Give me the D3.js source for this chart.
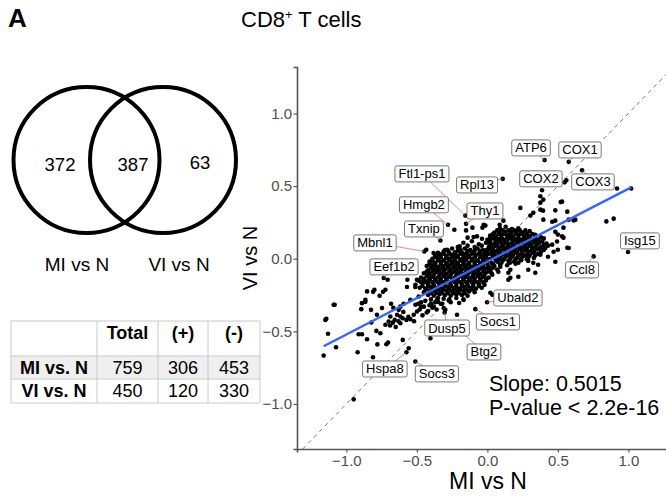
<!DOCTYPE html>
<html>
<head>
<meta charset="utf-8">
<script src="https://cdn.jsdelivr.net/npm/d3@7"></script>
<style>body{margin:0;background:#fff}</style>
</head>
<body>
<div id="canvas"></div>
<script>
// Constants
const w = 666;
const h = 497;
const font = "'Liberation Sans', Arial, Helvetica, sans-serif";

// Venn data
const vennSets = ["MI vs N", "VI vs N"];
const vennCounts = [372, 387, 63];

// Table data
const tableHeader = ["", "Total", "(+)", "(-)"];
const tableRows = ["MI vs. N", "VI vs. N"];
const tableTotal = [759, 450];
const tableUp = [306, 120];
const tableDown = [453, 330];

// Scatter axes
const xTicks = [-1.0, -0.5, 0.0, 0.5, 1.0];
const yTicks = [-1.0, -0.5, 0.0, 0.5, 1.0];
const fitSlope = 0.5015;
const fitIntercept = -0.02;
const statLines = ["Slope: 0.5015", "P-value < 2.2e-16"];

// dense cluster around (-0.2, -0.1)
const pointsLow = [
  [-0.17,0.11],[-0.11,0.12],[-0.06,0.10],[-0.01,0.11],
  [-0.21,0.08],[-0.14,0.09],[-0.09,0.08],[-0.04,0.09],[0.01,0.08],
  [-0.30,0.06],[-0.25,0.07],[-0.19,0.06],[-0.16,0.07],[-0.12,0.06],[-0.07,0.07],[-0.03,0.06],[0.02,0.07],
  [-0.35,0.04],[-0.31,0.05],[-0.27,0.04],[-0.23,0.045],[-0.18,0.04],[-0.14,0.05],[-0.10,0.04],[-0.05,0.045],[-0.01,0.04],[0.04,0.05],
  [-0.37,0.02],[-0.33,0.03],[-0.29,0.02],[-0.25,0.025],[-0.21,0.02],[-0.17,0.03],[-0.13,0.02],[-0.08,0.025],[-0.04,0.02],[0.00,0.03],[0.05,0.02],
  [-0.39,0.00],[-0.35,0.01],[-0.31,-0.01],[-0.27,0.00],[-0.23,0.01],[-0.19,-0.005],[-0.15,0.005],[-0.11,0.00],[-0.07,-0.01],[-0.03,0.005],[0.02,0.00],[0.06,-0.01],
  [-0.41,-0.02],[-0.37,-0.03],[-0.33,-0.02],[-0.29,-0.03],[-0.25,-0.02],[-0.21,-0.03],[-0.17,-0.02],[-0.13,-0.03],[-0.09,-0.02],[-0.05,-0.03],[-0.01,-0.02],[0.03,-0.03],
  [-0.43,-0.05],[-0.39,-0.045],[-0.35,-0.055],[-0.31,-0.05],[-0.27,-0.045],[-0.23,-0.055],[-0.19,-0.05],[-0.15,-0.045],[-0.11,-0.055],[-0.07,-0.05],[-0.03,-0.045],[0.01,-0.055],[0.05,-0.05],
  [-0.42,-0.08],[-0.38,-0.07],[-0.34,-0.08],[-0.30,-0.075],[-0.26,-0.07],[-0.22,-0.08],[-0.18,-0.075],[-0.14,-0.07],[-0.10,-0.08],[-0.06,-0.075],[-0.02,-0.07],[0.02,-0.08],[0.07,-0.075],
  [-0.45,-0.10],[-0.41,-0.105],[-0.37,-0.095],[-0.33,-0.10],[-0.29,-0.105],[-0.25,-0.095],[-0.21,-0.10],[-0.17,-0.105],[-0.13,-0.095],[-0.09,-0.10],[-0.05,-0.105],[-0.01,-0.095],[0.03,-0.10],
  [-0.47,-0.13],[-0.43,-0.12],[-0.39,-0.125],[-0.35,-0.13],[-0.31,-0.12],[-0.27,-0.125],[-0.23,-0.13],[-0.19,-0.12],[-0.15,-0.125],[-0.11,-0.13],[-0.07,-0.12],[-0.03,-0.125],[0.01,-0.13],
  [-0.49,-0.15],[-0.45,-0.155],[-0.41,-0.145],[-0.37,-0.15],[-0.33,-0.155],[-0.29,-0.145],[-0.25,-0.15],[-0.21,-0.155],[-0.17,-0.145],[-0.13,-0.15],[-0.09,-0.155],[-0.05,-0.145],[-0.01,-0.15],
  [-0.51,-0.18],[-0.46,-0.17],[-0.42,-0.175],[-0.38,-0.18],[-0.34,-0.17],[-0.30,-0.175],[-0.26,-0.18],[-0.22,-0.17],[-0.18,-0.175],[-0.14,-0.18],[-0.10,-0.17],[-0.06,-0.175],[-0.02,-0.18],
  [-0.48,-0.20],[-0.44,-0.205],[-0.40,-0.195],[-0.36,-0.20],[-0.32,-0.205],[-0.28,-0.195],[-0.24,-0.20],[-0.20,-0.205],[-0.16,-0.195],[-0.12,-0.20],[-0.08,-0.205],[-0.04,-0.20],
  [-0.45,-0.23],[-0.41,-0.22],[-0.37,-0.225],[-0.33,-0.23],[-0.29,-0.22],[-0.25,-0.225],[-0.21,-0.23],[-0.17,-0.22],[-0.13,-0.225],[-0.09,-0.23],
  [-0.42,-0.25],[-0.38,-0.255],[-0.34,-0.245],[-0.30,-0.25],[-0.26,-0.255],[-0.22,-0.245],[-0.18,-0.25],[-0.14,-0.255],
  [-0.40,-0.28],[-0.35,-0.27],[-0.31,-0.275],[-0.27,-0.28],[-0.22,-0.27],[-0.17,-0.28],
  [-0.37,-0.30],[-0.32,-0.31],[-0.26,-0.30],[-0.20,-0.305],
  [-0.28,0.055],[-0.21,0.055],[-0.14,0.055],[-0.09,0.055],[-0.05,0.055],[0.00,0.055],
  [-0.35,0.035],[-0.31,0.035],[-0.27,0.035],[-0.23,0.035],[-0.19,0.035],[-0.15,0.035],[-0.11,0.035],[-0.06,0.035],[-0.02,0.035],[0.02,0.035],
  [-0.37,0.01],[-0.33,0.01],[-0.29,0.01],[-0.25,0.01],[-0.21,0.01],[-0.17,0.01],[-0.13,0.01],[-0.09,0.01],[-0.05,0.01],[-0.01,0.01],[0.04,0.01],
  [-0.39,-0.012],[-0.35,-0.012],[-0.31,-0.012],[-0.27,-0.012],[-0.23,-0.012],[-0.19,-0.012],[-0.15,-0.012],[-0.11,-0.012],[-0.07,-0.012],[-0.03,-0.012],[0.01,-0.012],
  [-0.41,-0.037],[-0.37,-0.037],[-0.33,-0.037],[-0.29,-0.037],[-0.25,-0.037],[-0.21,-0.037],[-0.17,-0.037],[-0.13,-0.037],[-0.09,-0.037],[-0.05,-0.037],[0.00,-0.037],[0.04,-0.037],
  [-0.40,-0.062],[-0.36,-0.062],[-0.32,-0.062],[-0.28,-0.062],[-0.24,-0.062],[-0.20,-0.062],[-0.16,-0.062],[-0.12,-0.062],[-0.08,-0.062],[-0.04,-0.062],[0.00,-0.062],[0.04,-0.062],
  [-0.43,-0.088],[-0.39,-0.088],[-0.35,-0.088],[-0.31,-0.088],[-0.27,-0.088],[-0.23,-0.088],[-0.19,-0.088],[-0.15,-0.088],[-0.11,-0.088],[-0.07,-0.088],[-0.03,-0.088],[0.01,-0.088],
  [-0.42,-0.112],[-0.38,-0.112],[-0.34,-0.112],[-0.30,-0.112],[-0.26,-0.112],[-0.22,-0.112],[-0.18,-0.112],[-0.14,-0.112],[-0.10,-0.112],[-0.06,-0.112],[-0.02,-0.112],
  [-0.45,-0.138],[-0.41,-0.138],[-0.37,-0.138],[-0.33,-0.138],[-0.29,-0.138],[-0.25,-0.138],[-0.21,-0.138],[-0.17,-0.138],[-0.13,-0.138],[-0.09,-0.138],[-0.05,-0.138],[-0.01,-0.138],
  [-0.47,-0.162],[-0.43,-0.162],[-0.39,-0.162],[-0.35,-0.162],[-0.31,-0.162],[-0.27,-0.162],[-0.23,-0.162],[-0.19,-0.162],[-0.15,-0.162],[-0.11,-0.162],[-0.07,-0.162],[-0.03,-0.162],
  [-0.46,-0.188],[-0.42,-0.188],[-0.38,-0.188],[-0.34,-0.188],[-0.30,-0.188],[-0.26,-0.188],[-0.22,-0.188],[-0.18,-0.188],[-0.14,-0.188],[-0.10,-0.188],[-0.06,-0.188],
  [-0.43,-0.212],[-0.39,-0.212],[-0.35,-0.212],[-0.31,-0.212],[-0.27,-0.212],[-0.23,-0.212],[-0.19,-0.212],[-0.15,-0.212],[-0.11,-0.212],
  [-0.40,-0.238],[-0.36,-0.238],[-0.32,-0.238],[-0.28,-0.238],[-0.24,-0.238],[-0.20,-0.238],[-0.16,-0.238]
];

// dense cluster around (0.2, 0.08)
const pointsHigh = [
  [0.09,0.21],[0.13,0.22],[0.17,0.20],[0.22,0.21],
  [0.05,0.18],[0.09,0.19],[0.13,0.185],[0.17,0.18],[0.21,0.19],[0.25,0.18],[0.30,0.19],
  [0.02,0.16],[0.06,0.155],[0.10,0.165],[0.14,0.16],[0.18,0.155],[0.22,0.165],[0.26,0.16],[0.30,0.155],[0.34,0.165],
  [0.00,0.13],[0.04,0.14],[0.08,0.135],[0.12,0.13],[0.16,0.14],[0.20,0.135],[0.24,0.13],[0.28,0.14],[0.32,0.135],[0.36,0.13],[0.40,0.14],
  [0.01,0.11],[0.05,0.105],[0.09,0.115],[0.13,0.11],[0.17,0.105],[0.21,0.115],[0.25,0.11],[0.29,0.105],[0.33,0.115],[0.37,0.11],[0.42,0.105],
  [0.02,0.08],[0.06,0.09],[0.10,0.085],[0.14,0.08],[0.18,0.09],[0.22,0.085],[0.26,0.08],[0.30,0.09],[0.34,0.085],[0.38,0.08],[0.43,0.09],
  [0.03,0.06],[0.07,0.055],[0.11,0.065],[0.15,0.06],[0.19,0.055],[0.23,0.065],[0.27,0.06],[0.31,0.055],[0.35,0.065],[0.40,0.06],
  [0.04,0.03],[0.08,0.04],[0.12,0.035],[0.16,0.03],[0.20,0.04],[0.24,0.035],[0.28,0.03],[0.32,0.04],[0.36,0.035],
  [0.05,0.01],[0.09,0.005],[0.13,0.015],[0.17,0.01],[0.21,0.005],[0.25,0.015],[0.29,0.01],[0.33,0.005],
  [0.07,-0.02],[0.11,-0.01],[0.15,-0.015],[0.19,-0.02],[0.24,-0.01],[0.29,-0.015],
  [0.09,-0.04],[0.14,-0.045],[0.20,-0.035],
  [0.07,0.195],[0.11,0.195],[0.15,0.195],[0.19,0.195],[0.23,0.195],[0.27,0.195],
  [0.04,0.17],[0.08,0.17],[0.12,0.17],[0.16,0.17],[0.20,0.17],[0.24,0.17],[0.28,0.17],[0.32,0.17],
  [0.02,0.148],[0.06,0.148],[0.10,0.148],[0.14,0.148],[0.18,0.148],[0.22,0.148],[0.26,0.148],[0.30,0.148],[0.34,0.148],[0.38,0.148],
  [0.02,0.122],[0.06,0.122],[0.10,0.122],[0.14,0.122],[0.18,0.122],[0.22,0.122],[0.26,0.122],[0.30,0.122],[0.34,0.122],[0.39,0.122],
  [0.03,0.097],[0.07,0.097],[0.11,0.097],[0.15,0.097],[0.19,0.097],[0.23,0.097],[0.27,0.097],[0.31,0.097],[0.35,0.097],[0.40,0.097],
  [0.04,0.072],[0.08,0.072],[0.12,0.072],[0.16,0.072],[0.20,0.072],[0.24,0.072],[0.28,0.072],[0.32,0.072],[0.37,0.072],[0.41,0.072],
  [0.05,0.047],[0.09,0.047],[0.13,0.047],[0.17,0.047],[0.21,0.047],[0.25,0.047],[0.29,0.047],[0.33,0.047],[0.38,0.047],
  [0.06,0.022],[0.10,0.022],[0.14,0.022],[0.18,0.022],[0.22,0.022],[0.26,0.022],[0.30,0.022],[0.34,0.022],
  [0.08,-0.003],[0.12,-0.003],[0.16,-0.003],[0.20,-0.003],[0.24,-0.003],[0.28,-0.003],
  [0.10,-0.028],[0.16,-0.028],[0.22,-0.028]
];

// sparser genes
const pointsScatter = [
  [0.388,0.471],[0.376,0.43],[0.397,0.407],[0.56,0.54],[0.92,0.483],[1.02,0.483],[0.844,0.257],[0.896,0.276],
  [0.52,0.39],[0.234,0.35],[0.376,0.386],[0.395,0.331],[0.482,0.333],[0.305,0.297],[0.612,0.264],[0.577,0.269],
  [0.482,0.262],[0.53,0.154],[0.577,0.074],[0.494,0.119],[-0.038,0.138],[-0.014,0.228],[0.087,0.234],[0.175,0.205],
  [0.114,0.262],[0.53,0.393],[0.567,0.324],[0.624,0.269],[0.482,0.186],[0.567,0.076],[0.482,-0.021],[0.34,-0.097],
  [0.149,-0.097],[0.078,-0.09],[0.035,-0.11],[0.376,0.338],[0.397,0.269],[0.46,0.255],[0.5,0.166],[0.54,0.145],
  [0.46,0.097],[0.5,0.062],[0.43,0.014],[0.36,-0.041],[0.29,-0.076],[0.22,-0.124],[0.149,-0.145],[0.326,0.317],
  [0.54,0.214],[0.47,0.048],[0.376,0.028],[0.326,-0.028],[0.163,-0.076],[0.163,-0.131],[0.092,-0.055],[0.021,-0.234],
  [0.035,-0.248],
  [-0.286,0.062],[-0.196,0.085],[-0.097,0.15],[-0.073,0.154],[-0.026,0.234],[-0.14,0.145],[-0.035,0.214],[-0.106,0.214],
  [-0.234,0.2],[-0.151,0.195],[-0.433,0.062],[-0.381,0.039],[-0.381,-0.041],[-0.357,-0.087],[-0.291,0.005],[-0.168,-0.007],
  [-0.227,-0.041],[-0.002,0.062],
  [-0.707,-0.145],[-0.853,-0.225],[-0.801,-0.214],[-0.723,-0.214],[-0.764,-0.255],[-0.865,-0.283],[-0.894,-0.347],[-0.825,-0.352],
  [-0.683,-0.31],[-0.747,-0.34],[-0.57,-0.195],[-0.499,-0.145],[-0.511,-0.195],[-0.428,-0.156],[-0.168,-0.283],[-0.274,-0.288],
  [-0.357,-0.283],[-0.487,-0.26],[-0.546,-0.283],[-0.594,-0.31],[-0.629,-0.352],[-0.64,-0.386],[-0.688,-0.398],[-1.09,-0.317],
  [-0.865,-0.297],[-0.81,-0.228],[-0.74,-0.228],[-0.567,-0.145],[-0.667,-0.338],[-0.596,-0.366],[-0.298,-0.352],[-0.39,-0.338],
  [-0.51,-0.317],[-0.35,-0.297],[-0.215,-0.386],
  [-1.149,-0.421],[-1.13,-0.517],[-1.161,-0.667],[-1.073,-0.609],[-1.083,-0.317],[-0.92,-0.644],[-0.948,-0.968],[-0.913,-0.52],
  [-0.889,-0.52],[-0.853,-0.554],[-0.811,-0.678],[-0.783,-0.386],[-0.823,-0.439],[-0.787,-0.497],[-0.759,-0.513],[-0.723,-0.455],
  [-0.7,-0.432],[-0.657,-0.421],[-0.617,-0.444],[-0.574,-0.421],[-0.704,-0.577],[-0.716,-0.589],[-0.6,-0.559],[-0.558,-0.616],
  [-0.404,-0.547],[-0.546,-0.416],[-0.522,-0.386],[-0.499,-0.363],[-0.617,-0.398],[-0.889,-0.306],[-1.142,-0.414],[-0.78,-0.59],
  [-0.67,-0.44],[-0.63,-0.43],[-0.6,-0.41],[-0.56,-0.40],[-0.48,-0.35],[-0.45,-0.33],[-0.43,-0.37],[-0.46,-0.39],
  [-0.52,-0.43],[-0.69,-0.46],[-0.65,-0.47],[-0.4,-0.31],[-0.42,-0.36],[-0.38,-0.33],[-0.47,-0.3],[-0.44,-0.29],
  [-0.41,-0.32],[-0.36,-0.35],[-0.33,-0.31],[-0.31,-0.34],[-0.47,-0.33],[-0.49,-0.31],[-0.617,-0.33]
];

// labelled genes: point, then label centre
const geneNames = ["ATP6","COX1","COX3","COX2","Rpl13","Ftl1-ps1","Thy1","Hmgb2","Txnip","Mbnl1",
  "Eef1b2","Isg15","Ccl8","Ubald2","Socs1","Dusp5","Btg2","Hspa8","Socs3"];
const genePoints = [[0.406,0.679],[0.577,0.667],[0.672,0.609],[0.548,0.526],[0.109,0.55],[-0.156,0.297],
  [-0.151,0.24],[-0.279,0.234],[-0.333,0.126],[-0.447,0.05],[-0.735,-0.133],[0.998,0.046],[0.754,0.016],
  [-0.002,-0.3],[-0.085,-0.347],[-0.303,-0.37],[-0.19,-0.5],[-0.574,-0.644],[-0.511,-0.708]];
const geneLabels = [[0.31,0.763],[0.657,0.749],[0.749,0.529],[0.38,0.55],[-0.073,0.508],[-0.464,0.584],
  [-0.017,0.329],[-0.45,0.371],[-0.45,0.205],[-0.797,0.109],[-0.662,-0.056],[1.082,0.123],[0.671,-0.077],
  [0.217,-0.27],[0.075,-0.435],[-0.286,-0.477],[-0.024,-0.642],[-0.727,-0.759],[-0.358,-0.793]];

// SVG setup
const svg = d3.select("#canvas").append("svg")
  .attr("width", w)
  .attr("height", h)
  .style("font-family", font)
  .style("background-color", "white");

// Panel letter + title
svg.append("text").attr("x", 8).attr("y", 27)
  .style("font-size", "26px").style("font-weight", "bold").text("A");

const title = svg.append("text").attr("x", 241).attr("y", 27).style("font-size", "22px");
title.append("tspan").text("CD8");
title.append("tspan").attr("dy", -8).style("font-size", "13px").text("+");
title.append("tspan").attr("dy", 8).text(" T cells");

// Venn diagram
const vennCx = [86.5, 163];
const vennG = svg.append("g");
vennCx.forEach(cx => {
  vennG.append("circle")
    .attr("cx", cx).attr("cy", 160).attr("r", 73)
    .attr("fill", "none").attr("stroke", "black").attr("stroke-width", 4);
});
const vennNumX = [60, 133, 200];
vennCounts.forEach((c, i) => {
  vennG.append("text").attr("x", vennNumX[i]).attr("y", i === 2 ? 169 : 171)
    .attr("text-anchor", "middle").style("font-size", "18.5px").text(c);
});
vennSets.forEach((s, i) => {
  vennG.append("text").attr("x", [77, 179][i]).attr("y", 271)
    .attr("text-anchor", "middle").style("font-size", "19px").text(s);
});

// Table
const colEdges = [11, 97, 158, 208, 260];
const rowEdges = [321, 356, 379, 403];
const tableG = svg.append("g");
tableG.append("rect").attr("x", colEdges[0]).attr("y", rowEdges[1])
  .attr("width", colEdges[4] - colEdges[0]).attr("height", rowEdges[2] - rowEdges[1])
  .attr("fill", "#efefef");
rowEdges.forEach(y => tableG.append("line").attr("x1", colEdges[0]).attr("x2", colEdges[4])
  .attr("y1", y).attr("y2", y).attr("stroke", "#c9c9c9"));
colEdges.forEach(x => tableG.append("line").attr("x1", x).attr("x2", x)
  .attr("y1", rowEdges[0]).attr("y2", rowEdges[3]).attr("stroke", "#c9c9c9"));
const colMid = i => (colEdges[i] + colEdges[i + 1]) / 2;
tableHeader.forEach((t, i) => {
  tableG.append("text").attr("x", colMid(i)).attr("y", 339).attr("text-anchor", "middle")
    .style("font-size", "18px").style("font-weight", "bold").text(t);
});
tableRows.forEach((r, j) => {
  const y = j === 0 ? 374 : 397;
  const vals = [r, tableTotal[j], tableUp[j], tableDown[j]];
  vals.forEach((v, i) => {
    tableG.append("text").attr("x", colMid(i)).attr("y", y).attr("text-anchor", "middle")
      .style("font-size", "18px").style("font-weight", i === 0 ? "bold" : "normal").text(v);
  });
});

// Scatter plot
const xScale = d3.scaleLinear().domain([-1.35, 1.35]).range([297, 677.7]);
const yScale = d3.scaleLinear().domain([-1.31, 1.32]).range([449, 67]);
const plot = svg.append("g");

// y = x reference
plot.append("line")
  .attr("x1", xScale(-1.31)).attr("y1", yScale(-1.31))
  .attr("x2", xScale(1.32)).attr("y2", yScale(1.32))
  .attr("stroke", "#555").attr("stroke-width", 0.8).attr("stroke-dasharray", "4,4");

const allPoints = pointsLow.concat(pointsHigh, pointsScatter, genePoints);
plot.selectAll("circle.pt").data(allPoints).join("circle")
  .attr("class", "pt")
  .attr("cx", d => xScale(d[0])).attr("cy", d => yScale(d[1]))
  .attr("r", 2.3).attr("fill", "black");

// regression line across data range
const xExt = d3.extent(allPoints, d => d[0]);
plot.append("line")
  .attr("x1", xScale(xExt[0])).attr("y1", yScale(fitIntercept + fitSlope * xExt[0]))
  .attr("x2", xScale(xExt[1])).attr("y2", yScale(fitIntercept + fitSlope * xExt[1]))
  .attr("stroke", "#3366ff").attr("stroke-width", 2.4);

// axes
const xAxis = plot.append("g").attr("transform", "translate(0,449)")
  .call(d3.axisBottom(xScale).tickValues(xTicks).tickFormat(d3.format(".1f")).tickSizeOuter(0).tickSize(3.5));
const yAxis = plot.append("g").attr("transform", "translate(297,0)")
  .call(d3.axisLeft(yScale).tickValues(yTicks).tickFormat(d3.format(".1f")).tickSizeOuter(0).tickSize(3.5));
[xAxis, yAxis].forEach(a => {
  a.select(".domain").attr("stroke", "#555").attr("stroke-width", 1.6);
  a.selectAll(".tick line").attr("stroke", "#555").attr("stroke-width", 1.2);
  a.selectAll(".tick text").attr("fill", "#4d4d4d").style("font-size", "15px").style("font-family", font);
});
yAxis.selectAll(".tick text").attr("x", -5);

plot.append("text").attr("x", 488).attr("y", 489).attr("text-anchor", "middle")
  .style("font-size", "23px").text("MI vs N");
plot.append("text").attr("transform", "translate(257,258) rotate(-90)")
  .attr("text-anchor", "middle").style("font-size", "20px").text("VI vs N");

// repel-style labels
const labelG = svg.append("g");
geneNames.forEach((name, i) => {
  const px = xScale(genePoints[i][0]), py = yScale(genePoints[i][1]);
  const cx = xScale(geneLabels[i][0]), cy = yScale(geneLabels[i][1]);
  const g = labelG.append("g");
  const t = g.append("text").attr("x", cx).attr("y", cy + 4.5).attr("text-anchor", "middle")
    .style("font-size", "13px").text(name);
  const tw = t.node().getComputedTextLength();
  const hw = tw / 2 + 3.5, hh = 8;
  const dx = px - cx, dy = py - cy;
  const tt = Math.min(Math.abs(dx) > 0 ? hw / Math.abs(dx) : Infinity, Math.abs(dy) > 0 ? hh / Math.abs(dy) : Infinity);
  if (tt < 1) {
    labelG.insert("line", ":first-child")
      .attr("x1", cx + dx * tt).attr("y1", cy + dy * tt).attr("x2", px).attr("y2", py)
      .attr("stroke", "#e05555").attr("stroke-width", 0.7);
  }
  g.insert("rect", "text").attr("x", cx - hw).attr("y", cy - hh).attr("width", hw * 2).attr("height", hh * 2)
    .attr("rx", 2).attr("fill", "white").attr("stroke", "#555").attr("stroke-width", 0.8);
});

// stats text
statLines.forEach((s, i) => {
  svg.append("text").attr("x", 489).attr("y", 391 + i * 24).style("font-size", "21.5px").text(s);
});
</script>
</body>
</html>
